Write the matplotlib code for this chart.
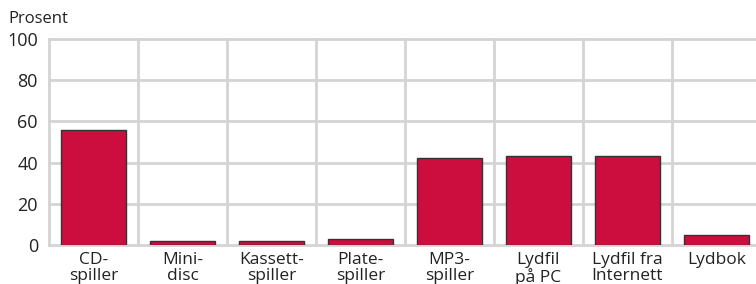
import matplotlib.pyplot as plt
import numpy as np

plt.rcParams['font.family'] = ['Open Sans', 'DejaVu Sans']

categories = ["CD-\nspiller", "Mini-\ndisc", "Kassett-\nspiller", "Plate-\nspiller",
              "MP3-\nspiller", "Lydfil\npå PC", "Lydfil fra\nInternett", "Lydbok"]
values = [56, 2, 2, 3, 42, 43, 43, 5]
yticks = [0, 20, 40, 60, 80, 100]

grid_col = "#d4d4d4"
bar_col = "#cc0e3e"

fig = plt.figure(figsize=(7.56, 2.84), dpi=100)
ax = fig.add_axes([49 / 756, 39 / 284, 712 / 756, 206 / 284])

x = np.arange(len(values))
ax.bar(x, values, width=0.73, color=bar_col, edgecolor="#333333", linewidth=1, zorder=3)

ax.set_xlim(-0.5, len(values) - 0.5)
ax.set_ylim(0, 100)
ax.set_yticks(yticks)
ax.set_yticklabels([str(v) for v in yticks], fontsize=13, color="#222222")
ax.set_xticks(x)
ax.set_xticklabels(categories, fontsize=12.5, color="#222222", linespacing=1.0)
ax.tick_params(length=0, pad=8)
ax.tick_params(axis="x", pad=5)

# horizontal grid at ticks, vertical grid between categories
for v in yticks:
    ax.axhline(v, color=grid_col, linewidth=2, zorder=1, clip_on=False)
for b in np.arange(-0.5, len(values), 1.0):
    ax.axvline(b, color=grid_col, linewidth=2, zorder=1, clip_on=False)

for s in ax.spines.values():
    s.set_visible(False)

fig.text(8 / 756, 1 - 19 / 284, "Prosent", fontsize=12, color="#222222", va="center")

fig.savefig("out.png", dpi=100)
